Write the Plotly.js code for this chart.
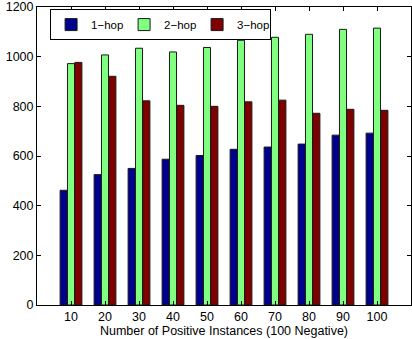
<!DOCTYPE html>
<html>
<head>
<meta charset="utf-8">
<script src="https://cdn.plot.ly/plotly-3.0.1.min.js"></script>
<style>html,body{margin:0;padding:0;background:#fff;}#chart{width:412px;height:339px;}</style>
</head>
<body>
<div id="chart"></div>
<script>
const categories = ['10','20','30','40','50','60','70','80','90','100'];
const hop1 = [462, 525, 550, 587, 602, 627, 636, 648, 684, 692];
const hop2 = [972, 1007, 1034, 1019, 1037, 1066, 1078, 1090, 1110, 1115];
const hop3 = [977, 921, 822, 804, 800, 818, 825, 772, 788, 784];
const seriesNames = ['1\u2212hop', '2\u2212hop', '3\u2212hop'];
const yTicks = [0, 200, 400, 600, 800, 1000, 1200];

const colors = ['#00008f', '#80ff80', '#800000'];
const font = {family: 'Liberation Sans, Arial, sans-serif', size: 12.5, color: '#000'};
const traces = [hop1, hop2, hop3].map((vals, i) => ({
  type: 'bar', x: categories, y: vals, name: seriesNames[i],
  marker: {color: colors[i], line: {color: '#1a1a1a', width: 1}}
}));

const layout = {
  width: 412, height: 339,
  margin: {l: 37, r: 1, t: 7, b: 34},
  font: font,
  paper_bgcolor: '#fff', plot_bgcolor: '#fff',
  barmode: 'group', bargap: 0.35, bargroupgap: 0.04,
  showlegend: true,
  legend: {
    orientation: 'h', x: 0.035, y: 0.993, xanchor: 'left', yanchor: 'top',
    bgcolor: '#fff', bordercolor: '#000', borderwidth: 1,
    font: {family: font.family, size: 11.5, color: '#000'},
    itemwidth: 30, entrywidth: 28, entrywidthmode: 'pixels', traceorder: 'normal'
  },
  xaxis: {
    type: 'category', categoryorder: 'array', categoryarray: categories,
    range: [-1, 10], showgrid: false, zeroline: false,
    showline: true, linecolor: '#000', linewidth: 1, mirror: 'ticks',
    ticks: 'inside', ticklen: 4, tickcolor: '#000',
    tickfont: font,
    title: {text: 'Number of Positive Instances (100 Negative)', font: font, standoff: 2}
  },
  yaxis: {
    range: [0, 1200], tickvals: yTicks, ticktext: yTicks.map(String),
    showgrid: false, zeroline: false,
    showline: true, linecolor: '#000', linewidth: 1, mirror: 'ticks',
    ticks: 'inside', ticklen: 4, tickcolor: '#000',
    ticklabeloverflow: 'allow',
    tickfont: font
  }
};
Plotly.newPlot('chart', traces, layout, {displayModeBar: false, staticPlot: true});
</script>
</body>
</html>
